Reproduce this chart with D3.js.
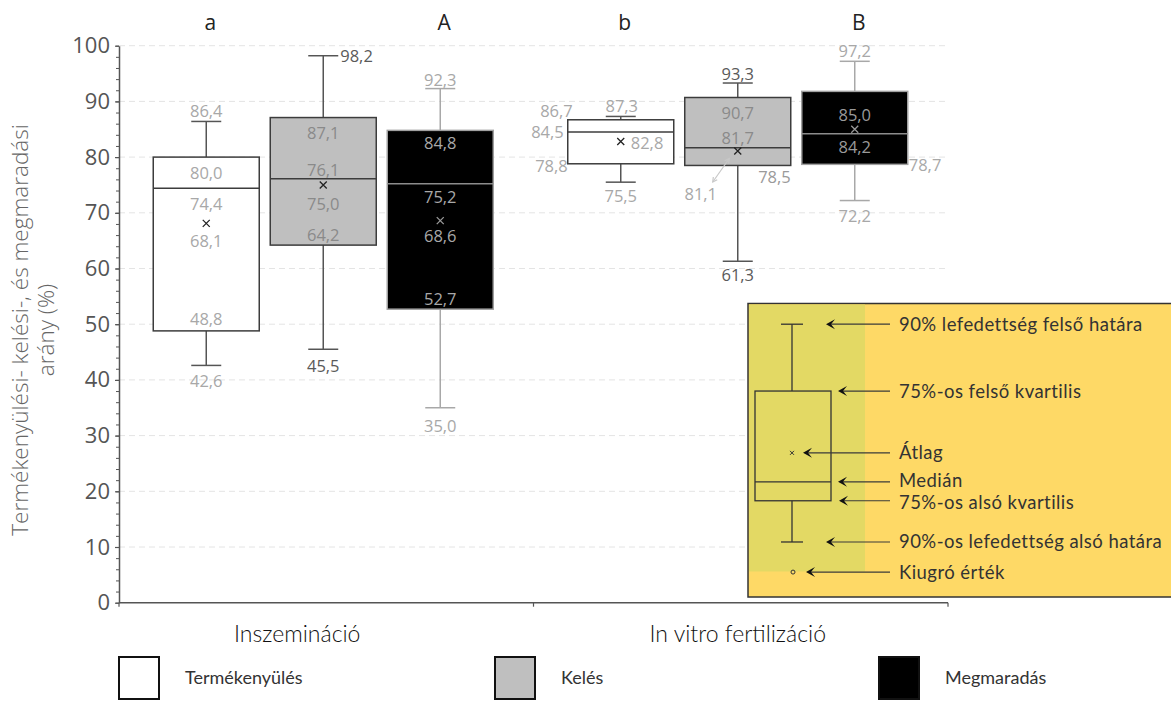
<!DOCTYPE html>
<html>
<head>
<meta charset="utf-8">
<script src="https://cdn.jsdelivr.net/npm/d3@7/dist/d3.min.js"></script>
<style>
  html, body { margin: 0; padding: 0; background: #fff; }
  svg { display: block; }
</style>
</head>
<body>
<svg id="chart" width="1171" height="702"></svg>
<script>
// ---- data ----
const groups = ["Inszemináció", "In vitro fertilizáció"];
const series = ["Termékenyülés", "Kelés", "Megmaradás"];
// [group][series]
const whiskerHigh = [[86.4, 98.2, 92.3], [87.3, 93.3, 97.2]];
const quartile3   = [[80.0, 87.1, 84.8], [86.7, 90.7, 91.8]];
const medians     = [[74.4, 76.1, 75.2], [84.5, 81.7, 84.2]];
const means       = [[68.1, 75.0, 68.6], [82.8, 81.1, 85.0]];
const quartile1   = [[48.8, 64.2, 52.7], [78.8, 78.5, 78.7]];
const whiskerLow  = [[42.6, 45.5, 35.0], [75.5, 61.3, 72.2]];
const groupLetters = [["a", null, "A"], ["b", null, "B"]];
const yTicks = [0, 10, 20, 30, 40, 50, 60, 70, 80, 90, 100];
const yLabelLines = ["Termékenyülési- kelési-, és megmaradási", "arány (%)"];

// explanatory key (values on the same axis)
const keyValues = { high: 50, q3: 38, mean: 26.9, median: 21.7, q1: 18.3, low: 10.9, outlier: 5.5 };
const keyEntries = [
  { key: "high",    text: "90% lefedettség felső határa" },
  { key: "q3",      text: "75%-os felső kvartilis" },
  { key: "mean",    text: "Átlag" },
  { key: "median",  text: "Medián" },
  { key: "q1",      text: "75%-os alsó kvartilis" },
  { key: "low",     text: "90%-os lefedettség alsó határa" },
  { key: "outlier", text: "Kiugró érték" }
];

// ---- styles ----
const boxStyle = [
  { fill: "#ffffff", stroke: "#3c3c3c", median: "#3c3c3c", whisker: "#555555", mean: "#222222" },
  { fill: "#bfbfbf", stroke: "#3c3c3c", median: "#3c3c3c", whisker: "#555555", mean: "#222222" },
  { fill: "#000000", stroke: "#a0a0a0", median: "#8c8c8c", whisker: "#a8a8a8", mean: "#9a9a9a" }
];
const LIGHT = "#a8a8a8", MID = "#8a8a8a", DARK = "#5a5a5a";

// label placement per box: ref = c(center) | l(left edge) | r(right edge)
const labelLayout = {
  "0-0": { high: ["c", 0, -4, "middle", LIGHT], q3: ["c", 0, 22, "middle", LIGHT], median: ["c", 0, 22, "middle", LIGHT],
           mean: ["c", 0, 24, "middle", LIGHT], q1: ["c", 0, -6, "middle", LIGHT], low: ["c", 0, 22, "middle", LIGHT] },
  "0-1": { high: ["c", 17, 6, "start", DARK], q3: ["c", 0, 21, "middle", MID], median: ["c", 0, -3, "middle", MID],
           mean: ["c", 0, 25, "middle", MID], q1: ["c", 0, -4, "middle", MID], low: ["c", 0, 23, "middle", DARK] },
  "0-2": { high: ["c", 0, -3, "middle", LIGHT], q3: ["c", 0, 19, "middle", LIGHT], median: ["c", 0, 19, "middle", LIGHT],
           mean: ["c", 0, 21, "middle", LIGHT], q1: ["c", 0, -4, "middle", LIGHT], low: ["c", 0, 24, "middle", LIGHT] },
  "1-0": { high: ["c", 1, -4, "middle", LIGHT], q3: ["l", 5, -3, "end", LIGHT], median: ["l", -4, 6, "end", LIGHT],
           mean: ["c", 10, 7, "start", LIGHT], q1: ["l", 0, 8, "end", LIGHT], low: ["c", 0, 20, "middle", LIGHT] },
  "1-1": { high: ["c", 0, -3, "middle", DARK], q3: ["c", 0, 21, "middle", MID], median: ["c", 0, -4, "middle", MID],
           mean: ["c", -37, 49, "middle", LIGHT, true], q1: ["r", 0, 18, "end", "#9a9a9a"], low: ["c", 0, 20, "middle", DARK] },
  "1-2": { high: ["c", 0, -4, "middle", LIGHT], mean: ["c", 0, -8, "middle", "#9a9a9a"], median: ["c", 0, 19, "middle", "#9a9a9a"],
           q1: ["r", 1, 7, "start", LIGHT], low: ["c", 0, 21, "middle", LIGHT] }
};

const svg = d3.select("#chart");
const numFont = "'Open Sans', 'Noto Sans', sans-serif";
const keyFont = "Lato, 'Noto Sans', sans-serif";
const fmt = v => d3.format(".1f")(v).replace(".", ",");

// ---- scales ----
const y = d3.scaleLinear().domain([0, 100]).range([602.7, 45.7]);
const xg = d3.scaleBand().domain(groups).range([119, 948]);
const xs = d3.scaleBand().domain(series).range([-170, 170]).paddingInner(0.094);
const groupShift = -3;
const cx = (g, s) => xg(groups[g]) + xg.bandwidth() / 2 + groupShift + xs(series[s]) + xs.bandwidth() / 2;
const bw = xs.bandwidth();
const capHalf = 15;

// ---- gridlines ----
svg.append("g").selectAll("line").data(yTicks.filter(t => t > 0)).join("line")
  .attr("x1", 119).attr("x2", 948)
  .attr("y1", d => y(d)).attr("y2", d => y(d))
  .attr("stroke", "#e4e4e4").attr("stroke-width", 1).attr("stroke-dasharray", "6,4");

// ---- y axis ----
const yAxis = svg.append("g").attr("transform", "translate(119,0)")
  .call(d3.axisLeft(y).tickValues(yTicks).tickSize(4).tickSizeOuter(0).tickPadding(5));
yAxis.select(".domain").attr("stroke", "#555").attr("stroke-width", 1.5);
yAxis.selectAll(".tick line").attr("stroke", "#555").attr("stroke-width", 1.2);
yAxis.selectAll(".tick text").attr("font-family", numFont).attr("font-size", 22).attr("fill", "#555");
const yMinor = svg.append("g").attr("transform", "translate(119,0)")
  .call(d3.axisLeft(y).tickValues(d3.range(0, 101, 2)).tickSize(3).tickFormat(""));
yMinor.select(".domain").remove();
yMinor.selectAll(".tick line").attr("stroke", "#555").attr("stroke-width", 1);

// y title
yLabelLines.forEach((line, i) => {
  svg.append("text")
    .attr("transform", `translate(${28 + i * 26},330) rotate(-90)`)
    .attr("text-anchor", "middle")
    .attr("font-family", numFont).attr("font-weight", 300).attr("font-size", 22.5).attr("fill", "#666")
    .text(line);
});

// ---- x axis ----
const xAxisY = y(0);
svg.append("line").attr("x1", xg.range()[0]).attr("x2", xg.range()[1])
  .attr("y1", xAxisY).attr("y2", xAxisY).attr("stroke", "#555").attr("stroke-width", 1.5);
svg.append("g").selectAll("line").data([xg.range()[0], xg(groups[1]), xg.range()[1]]).join("line")
  .attr("x1", d => d).attr("x2", d => d).attr("y1", xAxisY).attr("y2", xAxisY + 4)
  .attr("stroke", "#555").attr("stroke-width", 1.2);
const groupLabelShift = [-26, 0];
svg.append("g").selectAll("text").data(groups).join("text")
  .attr("x", (d, i) => xg(d) + xg.bandwidth() / 2 + groupShift + groupLabelShift[i])
  .attr("y", 642)
  .attr("text-anchor", "middle")
  .attr("font-family", keyFont).attr("font-weight", 300).attr("font-size", 23).attr("fill", "#111")
  .text(d => d);

// ---- boxes ----
const stats = { high: whiskerHigh, q3: quartile3, median: medians, mean: means, q1: quartile1, low: whiskerLow };
const plot = svg.append("g");
groups.forEach((gName, g) => {
  series.forEach((sName, s) => {
    const c = cx(g, s), st = boxStyle[s];
    const b = plot.append("g");
    // whiskers
    b.append("line").attr("x1", c).attr("x2", c).attr("y1", y(whiskerHigh[g][s])).attr("y2", y(quartile3[g][s]))
      .attr("stroke", st.whisker).attr("stroke-width", 1.5);
    b.append("line").attr("x1", c).attr("x2", c).attr("y1", y(quartile1[g][s])).attr("y2", y(whiskerLow[g][s]))
      .attr("stroke", st.whisker).attr("stroke-width", 1.5);
    [whiskerHigh[g][s], whiskerLow[g][s]].forEach(v => {
      b.append("line").attr("x1", c - capHalf).attr("x2", c + capHalf).attr("y1", y(v)).attr("y2", y(v))
        .attr("stroke", st.whisker).attr("stroke-width", 1.5);
    });
    // box
    b.append("rect").attr("x", c - bw / 2).attr("width", bw)
      .attr("y", y(quartile3[g][s])).attr("height", y(quartile1[g][s]) - y(quartile3[g][s]))
      .attr("fill", st.fill).attr("stroke", st.stroke).attr("stroke-width", 1.5);
    b.append("line").attr("x1", c - bw / 2).attr("x2", c + bw / 2)
      .attr("y1", y(medians[g][s])).attr("y2", y(medians[g][s]))
      .attr("stroke", st.median).attr("stroke-width", 1.5);
    // mean marker
    const my = y(means[g][s]);
    b.append("path").attr("d", `M${c - 3.5},${my - 3.5}L${c + 3.5},${my + 3.5}M${c - 3.5},${my + 3.5}L${c + 3.5},${my - 3.5}`)
      .attr("stroke", st.mean).attr("stroke-width", 1.3);
    // value labels
    const layout = labelLayout[`${g}-${s}`];
    Object.keys(layout).forEach(k => {
      const [ref, dx, dy, anchor, color, pointer] = layout[k];
      const v = stats[k][g][s];
      const rx = ref === "c" ? c : ref === "l" ? c - bw / 2 : c + bw / 2;
      b.append("text").attr("x", rx + dx).attr("y", y(v) + dy)
        .attr("text-anchor", anchor).attr("font-family", numFont).attr("font-size", 16.5)
        .attr("fill", color).text(fmt(v));
      if (pointer) {
        const x1 = c - 25, y1 = y(v) + 31, x2 = c - 8.5, y2 = y(v) + 7.5;
        const ang = Math.atan2(y2 - y1, x2 - x1);
        b.append("line").attr("x1", x1).attr("y1", y1).attr("x2", x2).attr("y2", y2)
          .attr("stroke", "#c8c8c8").attr("stroke-width", 1.2);
        [[x1, y1, ang + Math.PI], [x2, y2, ang]].forEach(([px, py, a]) => {
          const h = 5, w = 0.5;
          b.append("path")
            .attr("d", `M${px - h * Math.cos(a - w)},${py - h * Math.sin(a - w)}L${px},${py}L${px - h * Math.cos(a + w)},${py - h * Math.sin(a + w)}`)
            .attr("fill", "none").attr("stroke", "#c8c8c8").attr("stroke-width", 1.2);
        });
      }
    });
    // significance letters
    if (groupLetters[g][s]) {
      svg.append("text").attr("x", c + 4).attr("y", 30).attr("text-anchor", "middle")
        .attr("font-family", numFont).attr("font-size", 21).attr("fill", "#222")
        .text(groupLetters[g][s]);
    }
  });
});

// ---- explanatory key ----
const key = svg.append("g");
const kx = 792, kbw = 76, kcap = 11;
key.append("rect").attr("x", 748).attr("y", 303.5).attr("width", 440).attr("height", 293.5)
  .attr("fill", "#fed966").attr("stroke", "#333").attr("stroke-width", 1.5);
key.append("rect").attr("x", 749).attr("y", 304.5).attr("width", 116).attr("height", 267)
  .attr("fill", "#e3d964");
key.append("line").attr("x1", kx).attr("x2", kx).attr("y1", y(keyValues.high)).attr("y2", y(keyValues.q3))
  .attr("stroke", "#333").attr("stroke-width", 1.3);
key.append("line").attr("x1", kx).attr("x2", kx).attr("y1", y(keyValues.q1)).attr("y2", y(keyValues.low))
  .attr("stroke", "#333").attr("stroke-width", 1.3);
[keyValues.high, keyValues.low].forEach(v => {
  key.append("line").attr("x1", kx - kcap).attr("x2", kx + kcap).attr("y1", y(v)).attr("y2", y(v))
    .attr("stroke", "#333").attr("stroke-width", 1.3);
});
key.append("rect").attr("x", kx - 37).attr("width", kbw)
  .attr("y", y(keyValues.q3)).attr("height", y(keyValues.q1) - y(keyValues.q3))
  .attr("fill", "none").attr("stroke", "#333").attr("stroke-width", 1.3);
key.append("line").attr("x1", kx - 37).attr("x2", kx - 37 + kbw)
  .attr("y1", y(keyValues.median)).attr("y2", y(keyValues.median)).attr("stroke", "#333").attr("stroke-width", 1.3);
const kmy = y(keyValues.mean);
key.append("path").attr("d", `M${kx - 2},${kmy - 2}L${kx + 2},${kmy + 2}M${kx - 2},${kmy + 2}L${kx + 2},${kmy - 2}`)
  .attr("stroke", "#333").attr("stroke-width", 1);
key.append("circle").attr("cx", kx + 1).attr("cy", y(keyValues.outlier)).attr("r", 2)
  .attr("fill", "none").attr("stroke", "#333").attr("stroke-width", 1);

const arrowTips = { high: 826, q3: 838, mean: 803, median: 838, q1: 839, low: 826, outlier: 806 };
const keyTextShift = { median: 5, q1: 8 };
keyEntries.forEach(e => {
  const ay = y(keyValues[e.key]), tip = arrowTips[e.key];
  key.append("line").attr("x1", tip + 2).attr("x2", 890).attr("y1", ay).attr("y2", ay)
    .attr("stroke", "#3a3a3a").attr("stroke-width", 1.2);
  key.append("path").attr("d", `M${tip + 9},${ay - 5}L${tip},${ay}L${tip + 9},${ay + 5}L${tip + 5},${ay}Z`)
    .attr("fill", "#111");
  key.append("text").attr("x", 899).attr("y", ay + (keyTextShift[e.key] ?? 6.5))
    .attr("font-family", keyFont).attr("font-size", 18.5).attr("letter-spacing", 0.45)
    .attr("fill", "#333").text(e.text);
});

// ---- series legend ----
const legendX = [118, 494, 878];
const legend = svg.append("g");
series.forEach((sName, s) => {
  legend.append("rect").attr("x", legendX[s] + 1).attr("y", 657).attr("width", 40).attr("height", 42)
    .attr("fill", boxStyle[s].fill).attr("stroke", "#111").attr("stroke-width", 2);
  legend.append("text").attr("x", legendX[s] + 67).attr("y", 684)
    .attr("font-family", keyFont).attr("font-size", 18).attr("fill", "#333").text(sName);
});
</script>
</body>
</html>
